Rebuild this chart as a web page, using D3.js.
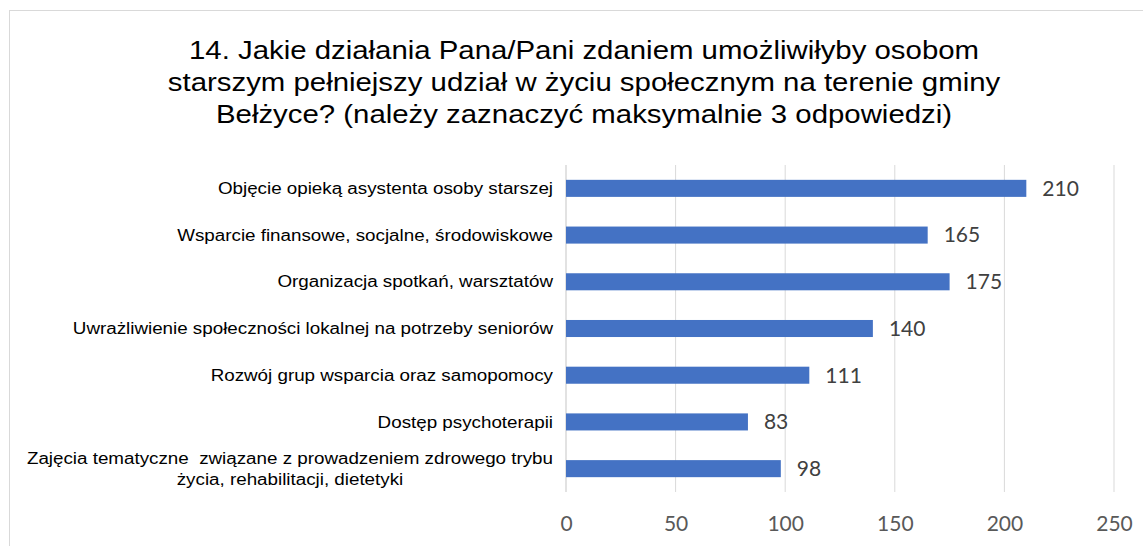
<!doctype html>
<html>
<head>
    <meta charset="utf-8">
    <script src="https://d3js.org/d3.v7.min.js"></script>
    <style>
        body { margin: 0; background: #fff; }
        .title { font: 25px "Liberation Sans", Arial, sans-serif; fill: #000; text-anchor: middle; }
        .cat { font: 16px "Liberation Sans", Arial, sans-serif; fill: #000; white-space: pre; }
        .tick text { font: 21px Lato, sans-serif; fill: #595959; }
        .val { font: 21px Lato, sans-serif; fill: #404040; }
    </style>
</head>
<body>
<script>
    // data
    let categories = [
        "Objęcie opieką asystenta osoby starszej",
        "Wsparcie finansowe, socjalne, środowiskowe",
        "Organizacja spotkań, warsztatów",
        "Uwrażliwienie społeczności lokalnej na potrzeby seniorów",
        "Rozwój grup wsparcia oraz samopomocy",
        "Dostęp psychoterapii",
        "Zajęcia tematyczne  związane z prowadzeniem zdrowego trybu\nżycia, rehabilitacji, dietetyki"
    ];
    let values = [210, 165, 175, 140, 111, 83, 98];
    let xTicks = [0, 50, 100, 150, 200, 250];
    let titleLines = [
        "14. Jakie działania Pana/Pani zdaniem umożliwiłyby osobom",
        "starszym pełniejszy udział w życiu społecznym na terenie gminy",
        "Bełżyce? (należy zaznaczyć maksymalnie 3 odpowiedzi)"
    ];

    let width = 1143, height = 546;
    let plotLeft = 566, plotRight = 1114, plotTop = 165, plotBottom = 492;
    // the source picture is stretched sideways, so the text is too
    let stretch = 1.175;

    let svg = d3.select("body").append("svg")
        .attr("width", width)
        .attr("height", height);

    // chart frame (runs off the right and bottom edge)
    svg.append("rect")
        .attr("x", 9.5).attr("y", 10.5)
        .attr("width", width).attr("height", height)
        .attr("fill", "none")
        .attr("stroke", "#d9d9d9");

    svg.append("g")
        .attr("transform", "translate(584,0) scale(" + stretch + ",1)")
        .selectAll("text")
        .data(titleLines)
        .enter().append("text")
        .attr("class", "title")
        .attr("x", 0)
        .attr("y", (d, i) => 59 + i * 32)
        .text(d => d);

    let x = d3.scaleLinear().domain([0, 250]).range([plotLeft, plotRight]);
    let y = d3.scaleBand().domain(categories).range([plotTop, plotBottom])
        .paddingInner(0.635).paddingOuter(0.3175);

    // gridlines
    svg.append("g")
        .selectAll("line")
        .data(xTicks)
        .enter().append("line")
        .attr("x1", d => x(d)).attr("x2", d => x(d))
        .attr("y1", plotTop).attr("y2", plotBottom)
        .attr("stroke", "#d9d9d9")
        .attr("stroke-width", d => d === 0 ? 1.5 : 1);

    // x axis labels
    let axis = svg.append("g")
        .attr("transform", "translate(0," + plotBottom + ")")
        .call(d3.axisBottom(x).tickValues(xTicks).tickSize(0).tickPadding(24));
    axis.select(".domain").remove();

    svg.append("g")
        .selectAll("rect")
        .data(values)
        .enter().append("rect")
        .attr("x", x(0))
        .attr("y", (d, i) => y(categories[i]))
        .attr("width", d => x(d) - x(0))
        .attr("height", y.bandwidth())
        .attr("fill", "#4472c4");

    svg.append("g")
        .selectAll("text")
        .data(values)
        .enter().append("text")
        .attr("class", "val")
        .attr("x", d => x(d) + 16)
        .attr("y", (d, i) => y(categories[i]) + y.bandwidth() / 2)
        .attr("dy", "0.35em")
        .text(d => d);

    // category labels, right aligned at x=553; wrapped one centered on its widest line
    let labels = svg.append("g")
        .attr("transform", "translate(553,0) scale(" + stretch + ",1)");
    categories.forEach(c => {
        let lines = c.split("\n");
        let cy = y(c) + y.bandwidth() / 2;
        let t = labels.append("text").attr("class", "cat");
        if (lines.length === 1) {
            t.attr("x", 0).attr("y", cy).attr("dy", "0.35em")
             .attr("text-anchor", "end").text(c);
        } else {
            let lh = 21;
            lines.forEach((l, j) => {
                t.append("tspan")
                 .attr("x", 0)
                 .attr("y", cy + (j - (lines.length - 1) / 2) * lh)
                 .attr("dy", "0.35em")
                 .attr("text-anchor", "middle")
                 .text(l);
            });
            let w = d3.max(t.selectAll("tspan").nodes(), n => n.getComputedTextLength());
            t.selectAll("tspan").attr("x", -w / 2);
        }
    });
</script>
</body>
</html>
